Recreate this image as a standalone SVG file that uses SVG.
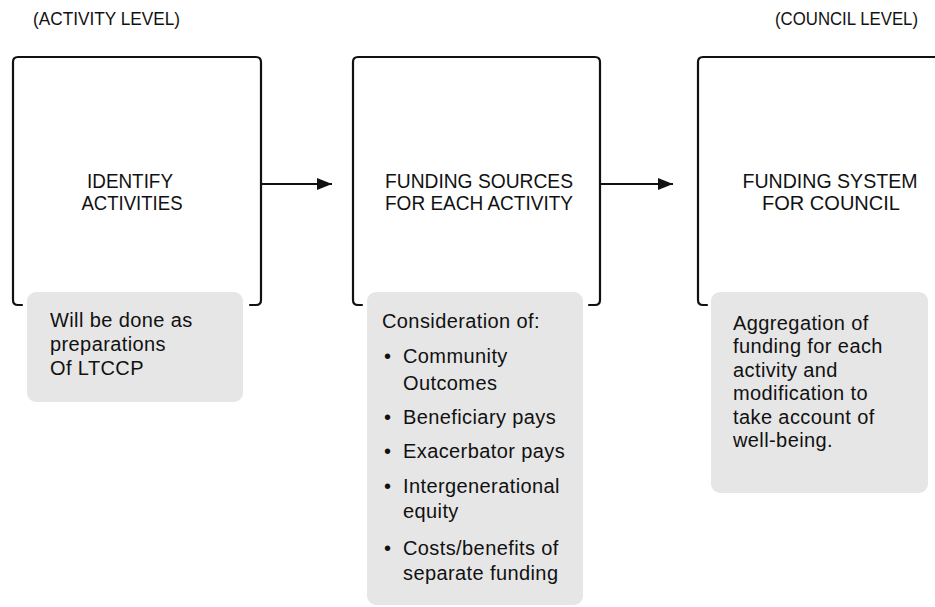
<svg xmlns="http://www.w3.org/2000/svg" width="935" height="607" viewBox="0 0 935 607">
<defs>
<style>
.frame{fill:none;stroke:#111;stroke-width:2.2;stroke-linejoin:round;stroke-linecap:round}
.note{fill:#e6e6e6;stroke:none}
.title{font-family:"Liberation Sans",Arial,sans-serif;font-size:20px;fill:#111;text-anchor:middle}
.level{font-family:"Liberation Sans",Arial,sans-serif;font-size:18px;fill:#111}
.body{font-family:"Liberation Sans",Arial,sans-serif;font-size:20px;fill:#111;letter-spacing:0.4px}
.conn{stroke:#111;stroke-width:2.2;fill:none}
</style>
<marker id="arrow" viewBox="0 0 15 12" refX="15" refY="6" markerWidth="15" markerHeight="12" markerUnits="userSpaceOnUse" orient="auto">
<path d="M0,0 L15,6 L0,12 Z" fill="#111"/>
</marker>
</defs>
<rect width="935" height="607" fill="#fff"/>

<text class="level" x="33" y="25" textLength="147" lengthAdjust="spacingAndGlyphs">(ACTIVITY LEVEL)</text>
<text class="level" x="775" y="25" textLength="143" lengthAdjust="spacingAndGlyphs">(COUNCIL LEVEL)</text>

<g id="node-identify">
<path class="frame" d="M22,305 H18 Q13,305 13,300 V62 Q13,57 18,57 H256 Q261,57 261,62 V300 Q261,305 256,305 H250"/>
<text class="title"><tspan x="130" y="188" textLength="86" lengthAdjust="spacingAndGlyphs">IDENTIFY</tspan><tspan x="132" y="210" textLength="101" lengthAdjust="spacingAndGlyphs">ACTIVITIES</tspan></text>
<rect class="note" x="27" y="292" width="216" height="110" rx="9"/>
<text class="body"><tspan x="50" y="327">Will be done as</tspan><tspan x="50" y="351">preparations</tspan><tspan x="50" y="375">Of LTCCP</tspan></text>
</g>

<g id="node-funding-sources">
<path class="frame" d="M362,305 H358 Q353,305 353,300 V62 Q353,57 358,57 H595 Q600,57 600,62 V300 Q600,305 595,305 H589"/>
<text class="title"><tspan x="479" y="188" textLength="188" lengthAdjust="spacingAndGlyphs">FUNDING SOURCES</tspan><tspan x="479" y="210" textLength="188" lengthAdjust="spacingAndGlyphs">FOR EACH ACTIVITY</tspan></text>
<rect class="note" x="367" y="292" width="216" height="313" rx="9"/>
<text class="body">
<tspan x="382" y="328">Consideration of:</tspan>
<tspan x="384" y="363">•</tspan><tspan x="403" y="363">Community</tspan>
<tspan x="403" y="390">Outcomes</tspan>
<tspan x="384" y="424">•</tspan><tspan x="403" y="424">Beneficiary pays</tspan>
<tspan x="384" y="458">•</tspan><tspan x="403" y="458">Exacerbator pays</tspan>
<tspan x="384" y="493">•</tspan><tspan x="403" y="493">Intergenerational</tspan>
<tspan x="403" y="518">equity</tspan>
<tspan x="384" y="555">•</tspan><tspan x="403" y="555">Costs/benefits of</tspan>
<tspan x="403" y="580">separate funding</tspan>
</text>
</g>

<g id="node-funding-system">
<path class="frame" d="M707,305 H703 Q698,305 698,300 V62 Q698,57 703,57 H936"/>
<text class="title"><tspan x="830" y="188" textLength="175" lengthAdjust="spacingAndGlyphs">FUNDING SYSTEM</tspan><tspan x="831" y="210" textLength="138" lengthAdjust="spacingAndGlyphs">FOR COUNCIL</tspan></text>
<rect class="note" x="711" y="292" width="217" height="201" rx="9"/>
<text class="body"><tspan x="733" y="330">Aggregation of</tspan><tspan x="733" y="353">funding for each</tspan><tspan x="733" y="377">activity and</tspan><tspan x="733" y="400">modification to</tspan><tspan x="733" y="424">take account of</tspan><tspan x="733" y="447">well-being.</tspan></text>
</g>

<g id="connectors">
<line class="conn" x1="262" y1="184" x2="332" y2="184" marker-end="url(#arrow)"/>
<line class="conn" x1="601" y1="184" x2="673" y2="184" marker-end="url(#arrow)"/>
</g>
</svg>
